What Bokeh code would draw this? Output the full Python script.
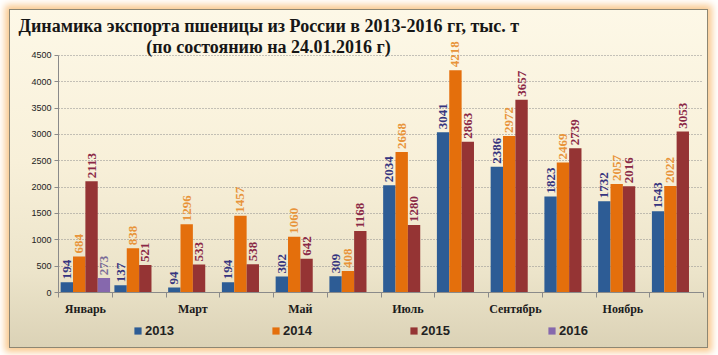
from math import pi
from bokeh.plotting import figure
from bokeh.layouts import column
from bokeh.models import (ColumnDataSource, Range1d, FixedTicker, LabelSet, Label,
                          Legend, LegendItem)
from bokeh.embed import file_html
from bokeh.resources import INLINE
from bokeh.core.properties import value

months = ["Январь", "Февраль", "Март", "Апрель", "Май", "Июнь",
          "Июль", "Август", "Сентябрь", "Октябрь", "Ноябрь", "Декабрь"]
shown_months = ["Январь", "Март", "Май", "Июль", "Сентябрь", "Ноябрь"]
years = ["2013", "2014", "2015", "2016"]
v2013 = [194, 137, 94, 194, 302, 309, 2034, 3041, 2386, 1823, 1732, 1543]
v2014 = [684, 838, 1296, 1457, 1060, 408, 2668, 4218, 2972, 2469, 2057, 2022]
v2015 = [2113, 521, 533, 538, 642, 1168, 1280, 2863, 3657, 2739, 2016, 3053]
v2016 = [273]
y_ticks = [0, 500, 1000, 1500, 2000, 2500, 3000, 3500, 4000, 4500]
title_1 = "Динамика экспорта пшеницы из России в 2013-2016 гг, тыс. т"
title_2 = "(по состоянию на 24.01.2016 г)"

series = [v2013, v2014, v2015, v2016]
bar_colors = ["#2d5c95", "#e46f0c", "#953434", "#8668ad"]
label_colors = ["#36357f", "#e8943a", "#8a2846", "#7a6c98"]
offsets = [-0.345, -0.115, 0.115, 0.345]
bar_w = 0.23

p = figure(width=697, height=308, x_range=Range1d(0, len(months)), y_range=Range1d(0, 4858),
           output_backend="svg", toolbar_location=None, tools="",
           min_border_left=48, min_border_right=4, min_border_top=26, min_border_bottom=24)
p.border_fill_color = None
p.background_fill_color = None
p.outline_line_color = None

sources = []
for k, vals in enumerate(series):
    xs = [i + 0.5 + offsets[k] for i in range(len(vals))]
    src = ColumnDataSource(dict(x=xs, top=vals, txt=[str(v) for v in vals]))
    sources.append(src)
    p.vbar(x="x", top="top", width=bar_w, source=src,
           fill_color=bar_colors[k], line_color=None)
    p.add_layout(LabelSet(x="x", y="top", text="txt", source=src, angle=pi / 2,
                          text_align="left", text_baseline="middle", y_offset=3,
                          text_font=value("Liberation Serif"), text_font_style="bold",
                          text_font_size="13px", text_color=label_colors[k]))

# axes
xa = p.xaxis[0]
xa.ticker = FixedTicker(ticks=[months.index(m) + 0.5 for m in shown_months],
                        minor_ticks=list(range(len(months) + 1)))
xa.major_label_overrides = {months.index(m) + 0.5: m for m in shown_months}
xa.major_tick_line_color = None
xa.major_tick_out = 5
xa.major_tick_in = 0
xa.minor_tick_out = 5
xa.minor_tick_in = 0
xa.minor_tick_line_color = "#8a8a8a"
xa.axis_line_color = "#8a8a8a"
xa.major_label_standoff = 4
xa.major_label_text_font = "Liberation Serif"
xa.major_label_text_font_style = "bold"
xa.major_label_text_font_size = "12px"
xa.major_label_text_color = "#1c1c1c"

ya = p.yaxis[0]
ya.ticker = FixedTicker(ticks=y_ticks)
ya.bounds = (0, 4500)
ya.major_tick_out = 4
ya.major_tick_in = 0
ya.minor_tick_line_color = None
ya.major_tick_line_color = "#8a8a8a"
ya.axis_line_color = "#8a8a8a"
ya.major_label_standoff = 3
ya.major_label_text_font = "Liberation Sans"
ya.major_label_text_font_size = "9px"
ya.major_label_text_color = "#222222"

p.xgrid.grid_line_color = None
p.ygrid.ticker = FixedTicker(ticks=y_ticks)
p.ygrid.grid_line_color = "#8c8c8c"
p.ygrid.grid_line_dash = "1 2"

# title: first line above the plot, second line inside the top of the frame
p.title.text = title_1
p.title.align = "left"
p.title.offset = -40
p.title.standoff = 2
p.title.text_font = "Liberation Serif"
p.title.text_font_style = "bold"
p.title.text_font_size = "18px"
p.title.text_color = "#161616"

p.add_layout(Label(x=210, y=246, x_units="screen", y_units="screen", text=title_2,
                   text_align="center", text_baseline="alphabetic",
                   text_font="Liberation Serif", text_font_style="bold",
                   text_font_size="18px", text_color="#161616"))

# legend strip under the chart (hidden copies of the bar renderers feed the legend)
lf = figure(width=697, height=29, x_range=Range1d(0, len(months)), y_range=Range1d(0, 4858),
            output_backend="svg", toolbar_location=None, tools="",
            x_axis_type=None, y_axis_type=None,
            min_border_left=0, min_border_right=0, min_border_top=0, min_border_bottom=0)
lf.border_fill_color = None
lf.background_fill_color = None
lf.outline_line_color = None
lf.grid.visible = False
items = []
for k, yr in enumerate(years):
    r = lf.vbar(x="x", top="top", width=bar_w, source=sources[k],
                fill_color=bar_colors[k], line_color=None, visible=False)
    items.append(LegendItem(label=yr, renderers=[r]))
legend = Legend(items=items, orientation="horizontal", location=(75, 9),
                padding=0, margin=0, spacing=96, glyph_width=9, glyph_height=9,
                label_standoff=3, label_height=14, label_width=30,
                label_text_font="Liberation Sans", label_text_font_style="bold",
                label_text_font_size="13px", label_text_color="#222222",
                inactive_fill_alpha=0,
                border_line_color=None, background_fill_alpha=0)
lf.add_layout(legend, "center")

layout = column(p, lf, spacing=0)
layout.styles = {
    "margin": "10px 0 0 10px",
    "background": "linear-gradient(to bottom, #fdf8e7 0%, #f8f0d9 45%, #ece4ca 78%, #dbd2b6 100%)",
    "outline": "1px solid #8d8672",
    "box-shadow": "0 0 7px 5px #f9c98f",
}

open("out.html", "w").write(file_html(layout, INLINE))
